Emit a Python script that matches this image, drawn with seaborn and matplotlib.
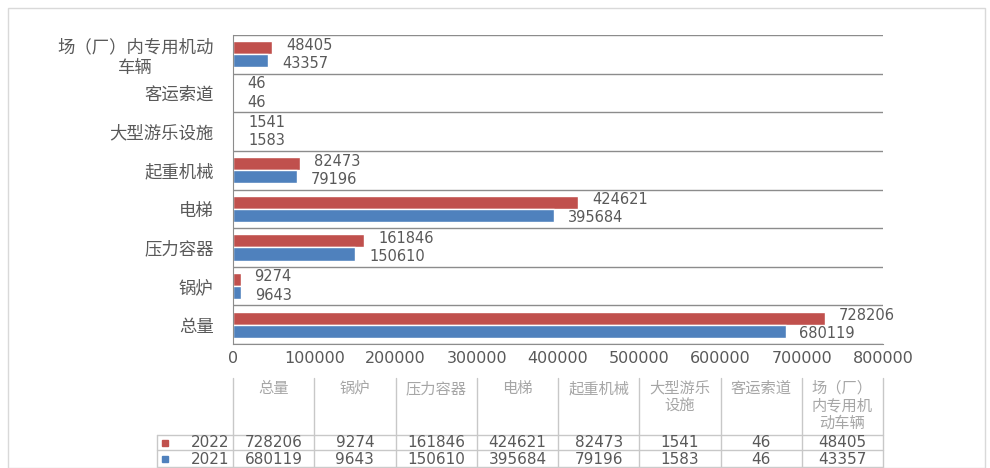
import matplotlib
matplotlib.use("Agg")
import matplotlib.pyplot as plt
import matplotlib.transforms as mtransforms
from matplotlib.patches import Rectangle
import seaborn as sns
import pandas as pd

# ---- data (bar chart order: top to bottom) ----
categories = ["场（厂）内专用机动\n车辆", "客运索道", "大型游乐设施", "起重机械",
              "电梯", "压力容器", "锅炉", "总量"]
values_2022 = [48405, 46, 1541, 82473, 424621, 161846, 9274, 728206]
values_2021 = [43357, 46, 1583, 79196, 395684, 150610, 9643, 680119]
years = ["2022", "2021"]
year_colors = {"2022": "#C0504D", "2021": "#4F81BD"}
x_ticks = [0, 100000, 200000, 300000, 400000, 500000, 600000, 700000, 800000]
# data table below the chart (left to right)
table_headers = ["总量", "锅炉", "压力容器", "电梯", "起重机械", "大型游乐\n设施",
                 "客运索道", "场（厂）\n内专用机\n动车辆"]

W, H = 990, 468

df = pd.DataFrame({
    "类别": categories * 2,
    "年份": ["2022"] * len(categories) + ["2021"] * len(categories),
    "数量": values_2022 + values_2021,
})

sns.set_style("white")
plt.rcParams["font.family"] = ["Noto Sans CJK SC", "DejaVu Sans"]

fig = plt.figure(figsize=(W / 100, H / 100), dpi=100)
ax = fig.add_axes([233 / W, 1 - 344 / H, 650 / W, 309 / H])

sns.barplot(data=df, y="类别", x="数量", hue="年份", hue_order=years,
            palette=year_colors, orient="h", width=0.68, saturation=1,
            legend=False, ax=ax)

# value labels next to bars, nudged apart a little so they don't collide
for container, vals, dy in zip(ax.containers, [values_2022, values_2021], [1.8, -1.8]):
    labels = ax.bar_label(container, labels=[str(v) for v in vals], padding=10,
                          fontsize=10.5, color="#595959", family="DejaVu Sans")
    for t in labels:
        t.xyann = (10, dy)

ax.set_xlim(0, 800000)
ax.set_ylim(len(categories) - 0.5, -0.5)
ax.set_xticks(x_ticks)
ax.set_xticklabels([str(t) for t in x_ticks], fontsize=11.5, color="#595959",
                   family="DejaVu Sans")
ax.set_yticks(range(len(categories)))
ax.set_yticklabels(categories, fontsize=12.5, color="#595959",
                   multialignment="center")
ax.set_yticks([i - 0.5 for i in range(len(categories) + 1)], minor=True)
ax.grid(which="minor", axis="y", color="#8c8c8c", lw=1)
ax.tick_params(which="both", length=0)
ax.tick_params(axis="y", pad=14)
ax.tick_params(axis="x", pad=5)
ax.set_xlabel("")
ax.set_ylabel("")
for s in ["top", "right"]:
    ax.spines[s].set_visible(False)
ax.spines["left"].set_color("#8c8c8c")
ax.spines["bottom"].set_color("#8c8c8c")

# ---- data table ----
trans = mtransforms.blended_transform_factory(ax.transData, fig.transFigure)


def fy(py):
    return 1 - py / H


line_kw = dict(color="#c8c8c8", lw=1, transform=trans, clip_on=False)
table_left = -93000
for x in x_ticks:
    ax.plot([x, x], [fy(378), fy(467)], **line_kw)
ax.plot([table_left, table_left], [fy(435), fy(467)], **line_kw)
for py in [435, 450, 467]:
    ax.plot([table_left, 800000], [fy(py), fy(py)], **line_kw)

for i, head in enumerate(table_headers):
    ax.text(50000 + i * 100000, fy(380), head, transform=trans, ha="center",
            va="top", fontsize=11, color="#a6a6a6", linespacing=1.05)

rows = [("2022", values_2022[::-1], 442.5), ("2021", values_2021[::-1], 459)]
for year, vals, py in rows:
    ax.add_patch(Rectangle((-87000, fy(py + 3)), 7000, 6 / H, transform=trans,
                           color=year_colors[year], clip_on=False))
    ax.text(-5000, fy(py), year, transform=trans, ha="right", va="center",
            fontsize=11, color="#595959", family="DejaVu Sans")
    for i, v in enumerate(vals):
        ax.text(50000 + i * 100000, fy(py), str(v), transform=trans,
                ha="center", va="center", fontsize=11, color="#595959",
                family="DejaVu Sans")

# outer chart border
fig.add_artist(Rectangle((8 / W, 0), 977 / W, 1 - 8 / H, transform=fig.transFigure,
                         fill=False, ec="#d9d9d9", lw=1))

fig.savefig("out.png", dpi=100)
